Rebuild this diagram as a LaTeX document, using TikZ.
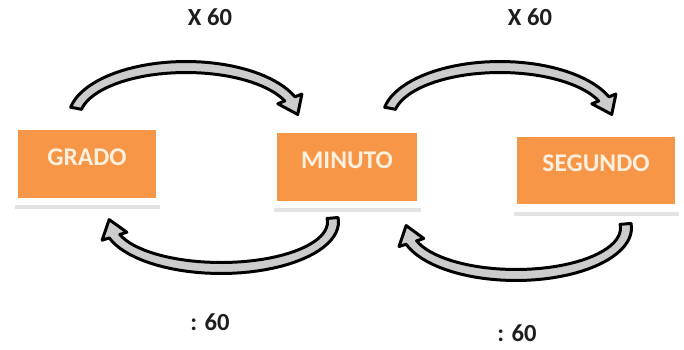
\documentclass[tikz,border=0pt]{standalone}
\usepackage{fontspec}
\setmainfont{Carlito}
\usepackage{tikz}
\usetikzlibrary{shadows}

\definecolor{boxorange}{RGB}{247,150,70}
\definecolor{boxtext}{RGB}{253,240,222}
\definecolor{labeltext}{RGB}{30,30,30}

\tikzset{
  unitbox/.style={fill=boxorange, draw=white, line width=4pt, inner sep=0pt,
    text height=0.77cm, text depth=0.73cm, text=boxtext,
    font=\bfseries\fontsize{14.5}{16}\selectfont,
    drop shadow={shadow xshift=0.5pt, shadow yshift=-4.5pt, fill=black!22}},
  factor/.style={text=labeltext, font=\bfseries\fontsize{14}{16}\selectfont},
  barrow/.style={draw=black, line width=1.7pt, line join=round, fill=gray!40}
}

% half width of the band and of the head
\newcommand{\bw}{5.5}
\newcommand{\hw}{13}
% #1 rx, #2 ry, #3 start angle, #4 head angle, #5 tip angle
\newcommand{\bentarrow}[5]{%
  plot[domain=#3:#4, samples=40] ({(#1+\bw)*cos(\x)},{(#2+\bw)*sin(\x)})
  -- ({(#1+\hw)*cos(#4)},{(#2+\hw)*sin(#4)})
  -- ({#1*cos(#5)},{#2*sin(#5)})
  -- ({(#1-\hw)*cos(#4)},{(#2-\hw)*sin(#4)})
  -- plot[domain=#4:#3, samples=40] ({(#1-\bw)*cos(\x)},{(#2-\bw)*sin(\x)})
  -- cycle}

\begin{document}
\begin{tikzpicture}[x=0.02cm, y=-0.02cm]
\useasboundingbox (0,0) rectangle (684,349);

% the three units
\node[unitbox, minimum width=2.9cm] (grado) at (87,164) {GRADO};
\node[unitbox, minimum width=2.94cm] (minuto) at (347,167) {MINUTO};
\node[unitbox, minimum width=3.3cm] (segundo) at (596,170.5) {SEGUNDO};

% centres of the bent arrows
\coordinate (up1) at (186,118);
\coordinate (up2) at (500,118);
\coordinate (lo1) at (221,222);
\coordinate (lo2) at (516,228);

\filldraw[barrow, shift={(up1)}] \bentarrow{112}{51}{191}{338}{356};
\filldraw[barrow, shift={(up2)}] \bentarrow{112}{51}{191}{338}{356};
\filldraw[barrow, shift={(lo1)}] \bentarrow{112}{46}{-5}{162}{183};
\filldraw[barrow, shift={(lo2)}] \bentarrow{110}{47}{-5}{162}{183};

% factors
\node[factor] (mul1) at (210,17) {X 60};
\node[factor] (mul2) at (530,17) {X 60};
\node[factor] (div1) at (210,322) {: 60};
\node[factor] (div2) at (517,333) {: 60};
\end{tikzpicture}
\end{document}
